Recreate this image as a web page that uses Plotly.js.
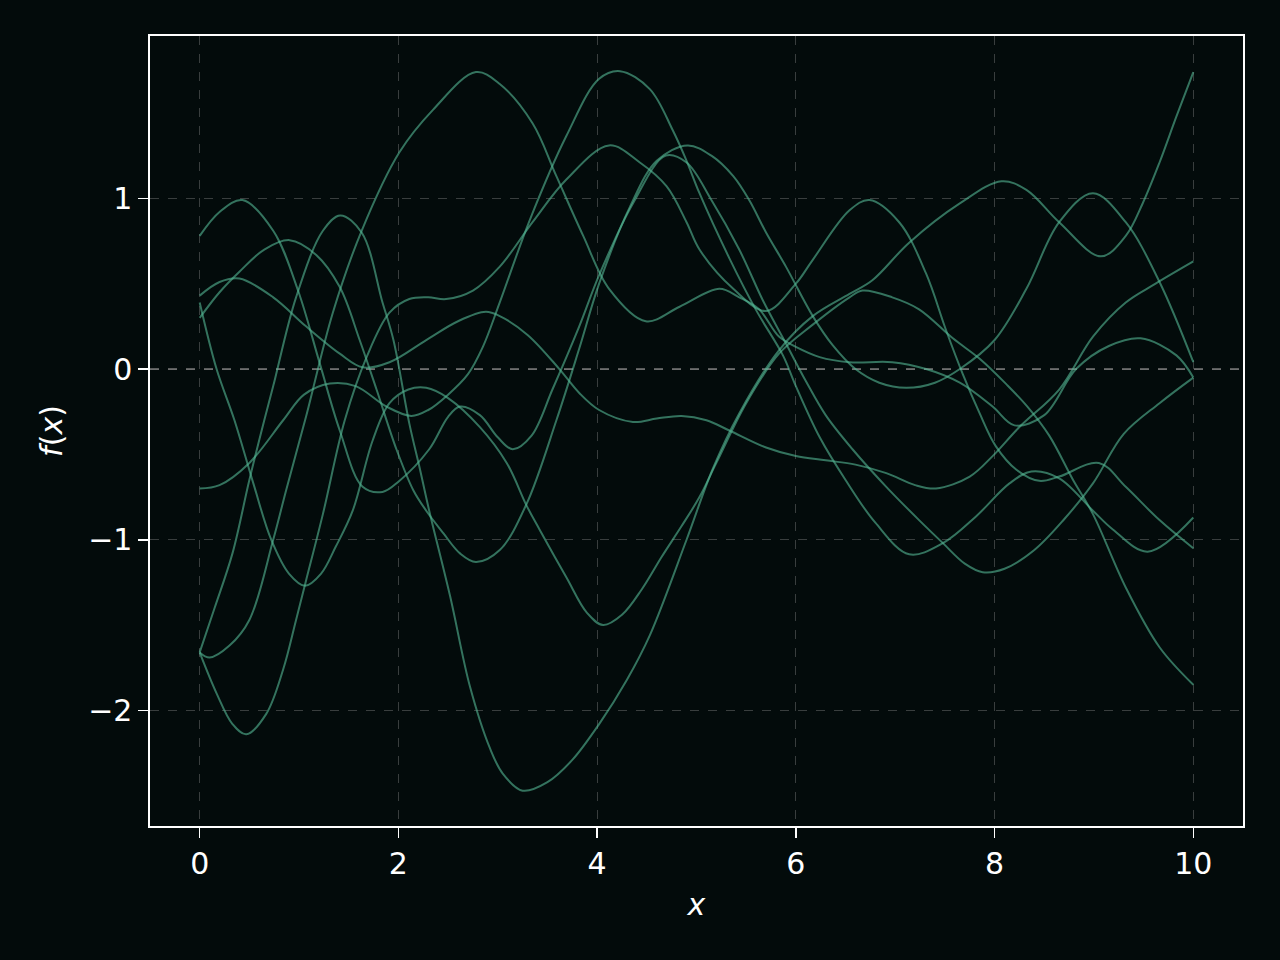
<!DOCTYPE html>
<html>
<head>
<meta charset="utf-8">
<script src="https://cdn.plot.ly/plotly-3.0.1.min.js"></script>
<style>
  html, body { margin: 0; padding: 0; background: #030b0b; }
  #myPlot { width: 1280px; height: 960px; }
</style>
</head>
<body>
<div id="myPlot"></div>
<script>
// sample paths (x, f(x))
const c1X = [0, 0.2, 0.43, 0.74, 0.99, 1.21, 1.41, 1.64, 1.84, 2.0, 2.31, 2.5, 2.62, 2.82, 3.0, 3.15, 3.34, 3.55, 3.82, 4.02, 4.36, 4.69, 4.9, 5.15, 5.43, 5.67, 5.9, 6.1, 6.3, 6.57, 6.91, 7.24, 7.48, 7.7, 7.88, 8.1, 8.4, 8.7, 8.99, 9.3, 9.66, 10];
const c1Y = [0.78, 0.92, 0.99, 0.81, 0.46, 0.03, -0.36, -0.69, -0.72, -0.66, -0.47, -0.28, -0.22, -0.27, -0.40, -0.47, -0.39, -0.12, 0.25, 0.55, 0.97, 1.25, 1.21, 0.99, 0.70, 0.40, 0.15, -0.07, -0.27, -0.47, -0.69, -0.885, -1.02, -1.14, -1.19, -1.17, -1.06, -0.88, -0.67, -0.38, -0.20, -0.05];

const c2X = [0, 0.2, 0.4, 0.74, 1.07, 1.41, 1.64, 1.91, 2.28, 2.6, 2.88, 3.02, 3.3, 3.62, 3.82, 4.02, 4.36, 4.6, 4.85, 5.1, 5.33, 5.7, 6.0, 6.3, 6.6, 6.91, 7.2, 7.41, 7.75, 7.98, 8.25, 8.65, 8.99, 9.32, 9.62, 10];
const c2Y = [0.43, 0.51, 0.53, 0.42, 0.25, 0.09, 0.01, 0.04, 0.17, 0.28, 0.335, 0.31, 0.2, 0.0, -0.14, -0.24, -0.31, -0.29, -0.275, -0.3, -0.36, -0.46, -0.51, -0.535, -0.56, -0.61, -0.68, -0.70, -0.63, -0.51, -0.34, -0.12, 0.19, 0.39, 0.50, 0.63];

const c3X = [0, 0.17, 0.35, 0.54, 0.72, 0.9, 1.06, 1.22, 1.37, 1.54, 1.74, 1.91, 2.1, 2.28, 2.5, 2.82, 3.09, 3.29, 3.42, 3.69, 3.9, 4.06, 4.25, 4.45, 4.65, 4.85, 5.03, 5.2, 5.5, 5.83, 6.17, 6.54, 6.67, 6.97, 7.24, 7.58, 7.85, 8.12, 8.33, 8.55, 8.79, 8.99, 9.32, 9.66, 10];
const c3Y = [0.39, 0.0, -0.30, -0.67, -1.0, -1.2, -1.27, -1.2, -1.04, -0.83, -0.42, -0.2, -0.12, -0.11, -0.17, -0.34, -0.55, -0.80, -0.94, -1.22, -1.43, -1.50, -1.44, -1.29, -1.10, -0.92, -0.75, -0.55, -0.2, 0.09, 0.26, 0.42, 0.46, 0.42, 0.35, 0.18, 0.06, -0.09, -0.22, -0.39, -0.65, -0.85, -1.28, -1.63, -1.85];

const c4X = [0, 0.2, 0.4, 0.65, 0.905, 1.17, 1.41, 1.61, 1.78, 1.98, 2.15, 2.28, 2.45, 2.62, 2.78, 3.02, 3.29, 3.59, 3.82, 4.02, 4.33, 4.6, 4.91, 5.15, 5.37, 5.53, 5.70, 5.90, 6.17, 6.37, 6.6, 6.84, 7.11, 7.4, 7.65, 8.0, 8.32, 8.65, 8.99, 9.32, 9.66, 10];
const c4Y = [0.30, 0.45, 0.57, 0.70, 0.755, 0.67, 0.48, 0.17, -0.12, -0.47, -0.71, -0.83, -0.96, -1.08, -1.13, -1.06, -0.79, -0.30, 0.12, 0.50, 0.95, 1.22, 1.31, 1.25, 1.13, 0.99, 0.80, 0.60, 0.31, 0.14, 0.0, -0.08, -0.11, -0.08, 0.0, 0.17, 0.47, 0.86, 1.03, 0.86, 0.51, 0.04];

const c5X = [0, 0.2, 0.5, 0.84, 1.05, 1.31, 1.57, 1.88, 2.13, 2.3, 2.5, 2.7, 2.85, 3.02, 3.32, 3.69, 4.02, 4.23, 4.53, 4.76, 4.9, 5.03, 5.33, 5.6, 5.87, 6.0, 6.24, 6.5, 6.8, 7.14, 7.48, 7.81, 8.15, 8.37, 8.65, 8.99, 9.19, 9.54, 10];
const c5Y = [-0.70, -0.68, -0.55, -0.30, -0.15, -0.085, -0.10, -0.22, -0.275, -0.24, -0.15, -0.03, 0.13, 0.39, 0.87, 1.365, 1.70, 1.745, 1.64, 1.40, 1.22, 1.03, 0.65, 0.345, 0.08, -0.10, -0.40, -0.65, -0.90, -1.085, -1.02, -0.865, -0.67, -0.60, -0.64, -0.83, -0.94, -1.07, -0.87];

const c6X = [0, 0.15, 0.33, 0.5, 0.65, 0.74, 0.97, 1.24, 1.415, 1.63, 1.84, 1.95, 2.11, 2.21, 2.31, 2.52, 2.72, 2.92, 3.05, 3.25, 3.5, 3.75, 4.02, 4.3, 4.53, 4.9, 5.16, 5.43, 5.83, 6.17, 6.54, 6.77, 7.14, 7.65, 8.07, 8.32, 8.65, 9.07, 9.32, 9.49, 9.66, 9.83, 10];
const c6Y = [-1.66, -1.40, -1.08, -0.65, -0.30, -0.10, 0.42, 0.81, 0.90, 0.80, 0.39, 0.17, -0.32, -0.57, -0.83, -1.33, -1.86, -2.22, -2.37, -2.47, -2.42, -2.29, -2.08, -1.82, -1.56, -1.0, -0.59, -0.26, 0.11, 0.31, 0.44, 0.52, 0.74, 0.97, 1.10, 1.05, 0.86, 0.66, 0.78, 0.97, 1.21, 1.48, 1.74];

const c7X = [0, 0.1, 0.3, 0.5, 0.74, 0.87, 1.07, 1.34, 1.63, 2.01, 2.35, 2.78, 3.02, 3.35, 3.59, 3.86, 4.12, 4.49, 4.83, 5.23, 5.43, 5.63, 5.83, 6.0, 6.24, 6.54, 6.97, 7.31, 7.65, 7.98, 8.2, 8.5, 8.82, 9.15, 9.47, 9.83, 10];
const c7Y = [-1.66, -1.69, -1.62, -1.47, -1.0, -0.71, -0.28, 0.33, 0.81, 1.27, 1.52, 1.74, 1.67, 1.44, 1.13, 0.78, 0.47, 0.28, 0.365, 0.47, 0.42, 0.35, 0.19, 0.13, 0.07, 0.04, 0.04, 0.0, -0.08, -0.22, -0.33, -0.27, 0.0, 0.135, 0.18, 0.08, -0.05];

const c8X = [0, 0.17, 0.33, 0.47, 0.67, 0.84, 0.97, 1.07, 1.24, 1.46, 1.68, 1.91, 2.11, 2.3, 2.48, 2.75, 3.02, 3.35, 3.69, 4.12, 4.43, 4.70, 4.90, 5.03, 5.37, 5.70, 6.0, 6.17, 6.54, 6.74, 7.04, 7.31, 7.51, 7.68, 7.85, 8.01, 8.22, 8.45, 8.65, 9.05, 9.32, 9.66, 10];
const c8Y = [-1.66, -1.90, -2.08, -2.14, -2.02, -1.76, -1.47, -1.24, -0.85, -0.30, 0.07, 0.33, 0.41, 0.42, 0.41, 0.46, 0.60, 0.86, 1.11, 1.31, 1.21, 1.07, 0.86, 0.70, 0.47, 0.34, 0.50, 0.64, 0.93, 0.99, 0.86, 0.56, 0.23, -0.03, -0.26, -0.45, -0.59, -0.655, -0.63, -0.55, -0.69, -0.885, -1.05];

const xTicks = [0, 2, 4, 6, 8, 10];
const yTicks = [-2, -1, 0, 1];
const yTickText = ["\u22122", "\u22121", "0", "1"];

const pathsX = [c1X, c2X, c3X, c4X, c5X, c6X, c7X, c8X];
const pathsY = [c1Y, c2Y, c3Y, c4Y, c5Y, c6Y, c7Y, c8Y];

var data = [];
for (let i = 0; i < pathsX.length; i++) {
  data.push({
    x: pathsX[i],
    y: pathsY[i],
    mode: "lines",
    line: { color: "rgba(85,185,150,0.6)", width: 2, shape: "spline", smoothing: 1 },
    hoverinfo: "skip",
    showlegend: false,
  });
}

const fontFam = "DejaVu Sans, sans-serif";

var layout = {
  width: 1280,
  height: 960,
  paper_bgcolor: "#030b0b",
  plot_bgcolor: "#030b0b",
  margin: { l: 150, r: 37, t: 36, b: 134 },
  font: { family: fontFam, color: "#ffffff", size: 30 },
  xaxis: {
    range: [-0.5, 10.5],
    tickvals: xTicks,
    ticks: "outside",
    ticklen: 10,
    tickwidth: 1.6,
    tickcolor: "#ffffff",
    tickfont: { size: 30, color: "#ffffff" },
    showline: true,
    mirror: true,
    linecolor: "#ffffff",
    linewidth: 1.6,
    showgrid: true,
    gridcolor: "rgba(140,140,140,0.4)",
    gridwidth: 1,
    griddash: "dash",
    zeroline: false,
    automargin: false,
    title: { text: "<i>x</i>", font: { size: 30, color: "#ffffff" }, standoff: 14 },
  },
  yaxis: {
    range: [-2.677, 1.951],
    tickvals: yTicks,
    ticktext: yTickText,
    ticks: "outside",
    ticklen: 10,
    tickwidth: 1.6,
    tickcolor: "#ffffff",
    tickfont: { size: 30, color: "#ffffff" },
    showline: true,
    mirror: true,
    linecolor: "#ffffff",
    linewidth: 1.6,
    showgrid: true,
    gridcolor: "rgba(140,140,140,0.4)",
    gridwidth: 1,
    griddash: "dash",
    zeroline: false,
    automargin: false,
    title: { text: "<i>f</i>(<i>x</i>)", font: { size: 30, color: "#ffffff" }, standoff: 16 },
  },
  shapes: [
    {
      type: "line",
      xref: "paper", x0: 0, x1: 1,
      yref: "y", y0: 0, y1: 0,
      line: { color: "rgba(120,120,120,0.75)", width: 2, dash: "dash" },
      layer: "below",
    },
  ],
  hovermode: false,
};

Plotly.newPlot("myPlot", data, layout, { displayModeBar: false, staticPlot: true });
</script>
</body>
</html>
